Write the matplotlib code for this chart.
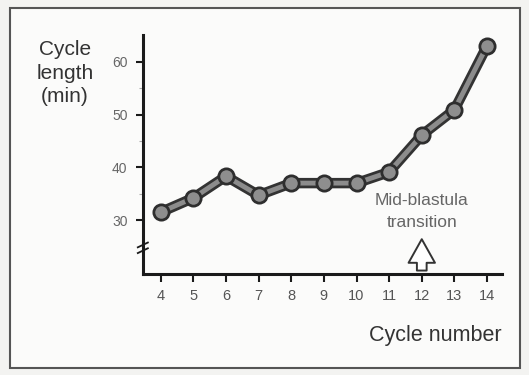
import matplotlib.pyplot as plt
import matplotlib.patches as patches

cycles = [4, 5, 6, 7, 8, 9, 10, 11, 12, 13, 14]
cycle_length = [31.5, 34.2, 38.3, 34.7, 37.0, 37.0, 37.0, 39.1, 46.1, 50.9, 63.0]
y_ticks = [30, 40, 50, 60]

plt.rcParams["font.family"] = ["Liberation Sans", "DejaVu Sans"]

fig = plt.figure(figsize=(5.29, 3.75), dpi=100, facecolor="#f3f3f1")
fig.patches.append(patches.Rectangle((0.019, 0.019), 0.964, 0.96, transform=fig.transFigure,
                                     fill=True, facecolor="#fbfbfa", edgecolor="#555555",
                                     lw=1.5, zorder=-10))

ax = fig.add_axes([0.270, 0.269, 0.679, 0.638])
ax.set_facecolor("none")

# line: dark outline with gray core
ax.plot(cycles, cycle_length, color="#333333", lw=7.5, solid_capstyle="round", zorder=2)
ax.plot(cycles, cycle_length, color="#8c8c8c", lw=3.5, solid_capstyle="round", zorder=3)
ax.plot(cycles, cycle_length, "o", ms=11, mfc="#8e8e8e", mec="#2e2e2e", mew=2, zorder=4)

ax.set_xlim(3.45, 14.46)
ax.set_ylim(19.75, 65.1)
ax.set_xticks(cycles)
ax.set_yticks(y_ticks)
ax.set_yticks([35, 45, 55], minor=True)

for s in ["top", "right"]:
    ax.spines[s].set_visible(False)
for s in ["left", "bottom"]:
    ax.spines[s].set_linewidth(2.2)
    ax.spines[s].set_color("#1a1a1a")

ax.tick_params(axis="x", direction="out", length=6, width=1.5, colors="#1a1a1a",
               labelcolor="#555555", labelsize=10.5, pad=5)
ax.tick_params(axis="y", which="major", direction="out", length=5, width=1.5, colors="#1a1a1a",
               labelcolor="#666666", labelsize=10, pad=6)
ax.tick_params(axis="y", which="minor", direction="out", length=3, width=0.8, colors="#aaaaaa")

# axis break marks
for dy in (-0.012, 0.012):
    ax.plot([-0.014, 0.014], [0.11 + dy - 0.01, 0.11 + dy + 0.01], transform=ax.transAxes,
            color="#1a1a1a", lw=1.3, clip_on=False, zorder=5)

# mid-blastula arrow
ax.annotate("", xy=(12, 26.9), xytext=(12, 19.9),
            arrowprops=dict(arrowstyle="simple,head_width=1.9,head_length=1.7,tail_width=0.7",
                            mutation_scale=10, fc="white", ec="#333333", lw=1.4))
ax.text(12.0, 31.6, "Mid-blastula\ntransition", ha="center", va="center",
        fontsize=12.5, color="#666666", linespacing=1.6)

fig.text(0.123, 0.805, "Cycle\nlength\n(min)", ha="center", va="center",
         fontsize=15, color="#333333", linespacing=1.3)
fig.text(0.822, 0.106, "Cycle number", ha="center", va="center",
         fontsize=15.5, color="#333333")

fig.savefig("out.png", dpi=100, facecolor=fig.get_facecolor())
